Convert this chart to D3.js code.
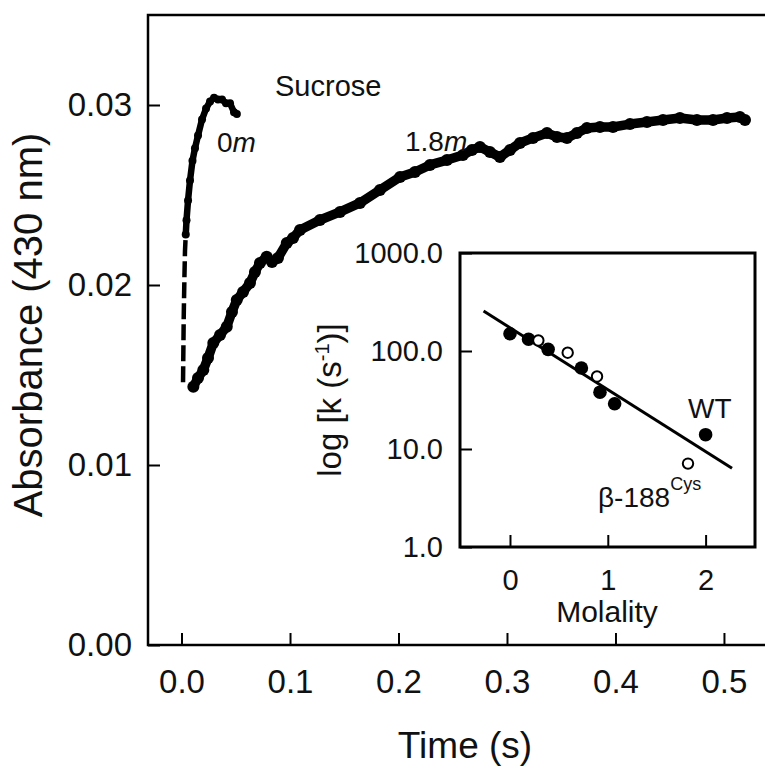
<!DOCTYPE html>
<html><head><meta charset="utf-8">
<script src="https://cdn.jsdelivr.net/npm/d3@7"></script>
<style>
html,body{margin:0;padding:0;background:#fff;}
svg{display:block;font-family:"Liberation Sans",Arial,sans-serif;}
</style></head>
<body><svg id="c" width="765" height="770"></svg>
<script>
// ---- data ----
const time0m = [0.0014,0.0016,0.0018,0.0020,0.0023,0.0027,0.0032,0.0039,0.0046,0.0060,0.0078,0.0101,0.0124,0.0152,0.0189,0.0226,0.0263,0.0300,0.0336,0.0373,0.0410,0.0447,0.0484,0.0510];
const abs0m  = [0.0146,0.0158,0.0169,0.0181,0.0192,0.0205,0.0219,0.0228,0.0236,0.0247,0.0258,0.0269,0.0276,0.0283,0.0292,0.0298,0.0302,0.0304,0.0303,0.0303,0.0301,0.0301,0.0296,0.0295];
const time18m = [0.0109,0.0152,0.0201,0.0244,0.0293,0.0355,0.0417,0.0465,0.0509,0.0567,0.0631,0.0677,0.0723,0.0785,0.0834,0.0889,0.0970,0.1028,0.1092,0.1276,0.1461,0.1645,0.1829,0.2014,0.2152,0.2290,0.2447,0.2594,0.2677,0.2751,0.2843,0.2935,0.3028,0.3120,0.3240,0.3369,0.3461,0.3553,0.3645,0.3737,0.3857,0.3977,0.4134,0.4290,0.4438,0.4594,0.4751,0.4899,0.5028,0.5147,0.5194];
const abs18m  = [0.01435,0.01483,0.01528,0.01594,0.01678,0.01722,0.01768,0.01850,0.01917,0.01961,0.02011,0.02072,0.02122,0.02157,0.02128,0.02150,0.02233,0.02261,0.02306,0.02361,0.02406,0.02456,0.02528,0.02600,0.02628,0.02667,0.02694,0.02722,0.02750,0.02767,0.02739,0.02711,0.02750,0.02789,0.02817,0.02844,0.02822,0.02817,0.02844,0.02872,0.02878,0.02878,0.02894,0.02906,0.02917,0.02928,0.02917,0.02917,0.02928,0.02933,0.02917];
const molalityWT = [0, 0.19, 0.39, 0.73, 0.92, 1.07, 2.0];
const rateWT     = [150, 132, 104, 67, 38, 29, 14];
const molalityCys = [0.29, 0.59, 0.89, 1.82];
const rateCys     = [128, 96, 55, 7.1];
const fitMolality = [-0.27, 2.27];
const fitRate     = [256, 6.35];
const timeTicks = [0, 0.1, 0.2, 0.3, 0.4, 0.5];
const absTicks  = [0, 0.01, 0.02, 0.03];
const rateTicks = [1, 10, 100, 1000];
const molTicks  = [0, 1, 2];

const svg = d3.select("#c");
const ink = "#111";

// ---- main chart ----
const x = d3.scaleLinear().domain([-0.0309, 0.5535]).range([148, 782]);
const y = d3.scaleLinear().domain([0, 0.035]).range([645, 15]);

svg.append("rect").attr("x",148).attr("y",15).attr("width",634).attr("height",630)
  .attr("fill","none").attr("stroke","#000").attr("stroke-width",2.5);

const gx = svg.append("g").attr("transform","translate(0,645)")
  .call(d3.axisBottom(x).tickValues(timeTicks).tickFormat(d3.format(".1f")).tickSize(-12).tickSizeOuter(0).tickPadding(25));
const gy = svg.append("g").attr("transform","translate(148,0)")
  .call(d3.axisLeft(y).tickValues(absTicks).tickFormat(d3.format(".2f")).tickSize(-12).tickSizeOuter(0).tickPadding(16));
[gx,gy].forEach(g=>{
  g.select(".domain").remove();
  g.selectAll(".tick line").attr("stroke","#000").attr("stroke-width",2);
  g.selectAll(".tick text").attr("fill",ink).attr("font-size",33).attr("font-family","Liberation Sans, Arial, sans-serif");
});

const line = d3.line().x(d=>x(d[0])).y(d=>y(d[1]));
const d0 = time0m.map((t,i)=>[t,abs0m[i]]);
const d18 = time18m.map((t,i)=>[t,abs18m[i]]);
// 0 m trace: fast rise drawn as sparse dots (dashed look), plateau thick
const d0low = d0.filter(d=>d[1] <= 0.0228);
const d0high = d0.filter(d=>d[1] >= 0.0228);
svg.append("path").datum(d0low).attr("d",line).attr("fill","none").attr("stroke","#000")
  .attr("stroke-width",4.5).attr("stroke-dasharray","16,5");
svg.append("path").datum(d0high).attr("d",line).attr("fill","none").attr("stroke","#000")
  .attr("stroke-width",6.5).attr("stroke-linejoin","round");
svg.append("g").selectAll("circle").data(d0high).join("circle")
  .attr("cx",d=>x(d[0])).attr("cy",d=>y(d[1])).attr("r",4).attr("fill","#000");
// 1.8 m trace
svg.append("path").datum(d18).attr("d",line).attr("fill","none").attr("stroke","#000").attr("stroke-width",9.5).attr("stroke-linejoin","round");
svg.append("g").selectAll("circle").data(d18).join("circle")
  .attr("cx",d=>x(d[0])).attr("cy",d=>y(d[1])).attr("r",6).attr("fill","#000");

svg.append("text").attr("x",275).attr("y",96).attr("font-size",29).attr("fill",ink).text("Sucrose");
const t0 = svg.append("text").attr("x",217).attr("y",152).attr("font-size",28).attr("fill",ink);
t0.append("tspan").text("0"); t0.append("tspan").attr("font-style","italic").text("m");
const t18 = svg.append("text").attr("x",405).attr("y",151).attr("font-size",28).attr("fill",ink);
t18.append("tspan").text("1.8"); t18.append("tspan").attr("font-style","italic").text("m");

svg.append("text").attr("transform","translate(42,325) rotate(-90)").attr("text-anchor","middle")
  .attr("font-size",40).attr("fill",ink).text("Absorbance (430 nm)");
svg.append("text").attr("x",465).attr("y",758).attr("text-anchor","middle")
  .attr("font-size",37).attr("fill",ink).text("Time (s)");

// ---- inset ----
const ix = d3.scaleLinear().domain([-0.511, 2.505]).range([460, 755]);
const iy = d3.scaleLog().domain([1, 1000]).range([547, 253]);
svg.append("rect").attr("x",460).attr("y",253).attr("width",295).attr("height",294)
  .attr("fill","#fff").attr("stroke","#000").attr("stroke-width",3);
const igx = svg.append("g").attr("transform","translate(0,547)")
  .call(d3.axisBottom(ix).tickValues(molTicks).tickFormat(d3.format("d")).tickSize(-12).tickSizeOuter(0).tickPadding(22));
const igy = svg.append("g").attr("transform","translate(460,0)")
  .call(d3.axisLeft(iy).tickValues(rateTicks).tickFormat(d3.format(".1f")).tickSize(-12).tickSizeOuter(0).tickPadding(17));
[igx,igy].forEach(g=>{
  g.select(".domain").remove();
  g.selectAll(".tick line").attr("stroke","#000").attr("stroke-width",2);
  g.selectAll(".tick text").attr("fill",ink).attr("font-size",29).attr("font-family","Liberation Sans, Arial, sans-serif");
});
const fit = fitMolality.map((m,i)=>[m,fitRate[i]]);
svg.append("path").datum(fit).attr("d",d3.line().x(d=>ix(d[0])).y(d=>iy(d[1])))
  .attr("stroke","#000").attr("stroke-width",3).attr("fill","none");
svg.append("g").selectAll("circle").data(molalityWT.map((m,i)=>[m,rateWT[i]])).join("circle")
  .attr("cx",d=>ix(d[0])).attr("cy",d=>iy(d[1])).attr("r",6.8).attr("fill","#000");
svg.append("g").selectAll("circle").data(molalityCys.map((m,i)=>[m,rateCys[i]])).join("circle")
  .attr("cx",d=>ix(d[0])).attr("cy",d=>iy(d[1])).attr("r",5.2).attr("fill","#fff").attr("stroke","#000").attr("stroke-width",2);

svg.append("text").attr("x",688).attr("y",418).attr("font-size",28).attr("fill",ink).text("WT");
const tb = svg.append("text").attr("x",598).attr("y",507).attr("font-size",28).attr("fill",ink);
tb.append("tspan").text("β-188");
tb.append("tspan").attr("dy",-17).attr("font-size",18).text("Cys");
svg.append("text").attr("x",607).attr("y",622).attr("text-anchor","middle").attr("font-size",30).attr("fill",ink).text("Molality");
const tl = svg.append("text").attr("transform","translate(341,400) rotate(-90)").attr("text-anchor","middle")
  .attr("font-size",33).attr("fill",ink);
tl.append("tspan").text("log [k (s");
tl.append("tspan").attr("dy",-12).attr("font-size",20).text("-1");
tl.append("tspan").attr("dy",12).text(")]");
</script></body></html>
